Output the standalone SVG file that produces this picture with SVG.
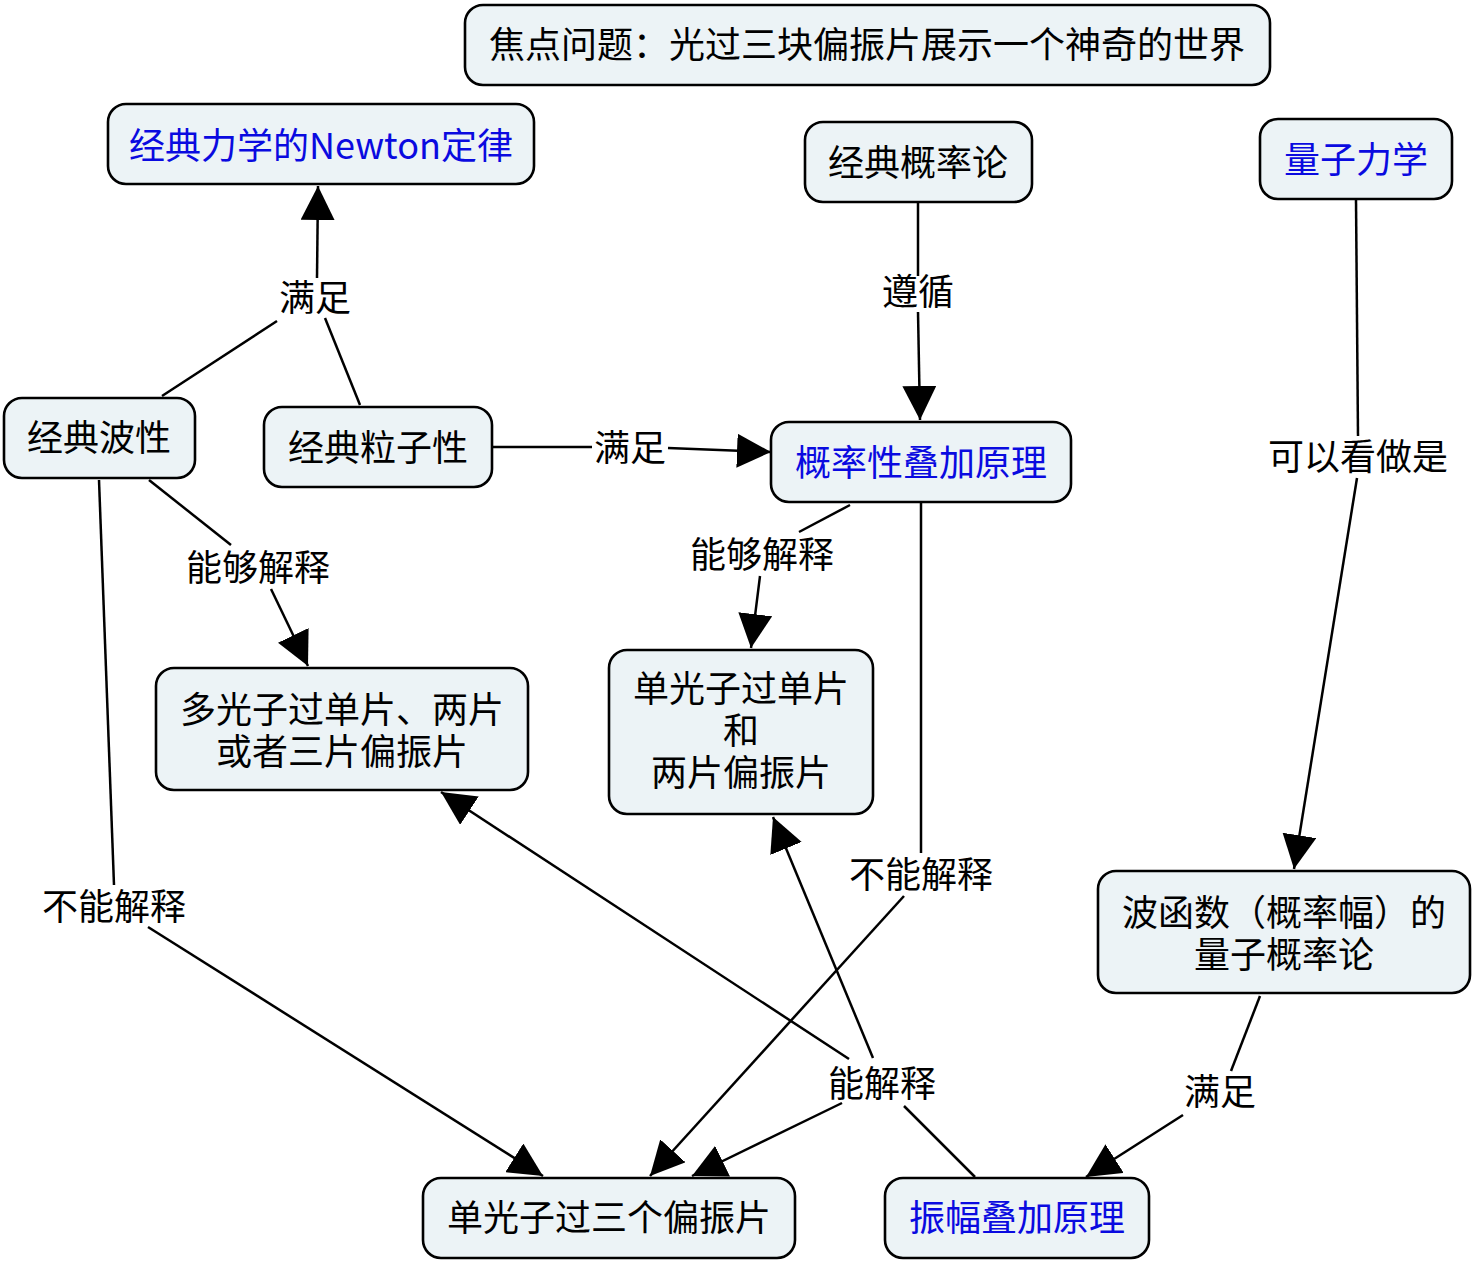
<svg xmlns="http://www.w3.org/2000/svg" width="1476" height="1263" viewBox="0 0 1476 1263">
<style>
.node rect{fill:#ecf3f6;stroke:#000;stroke-width:2.6}
text{font-family:"Noto Sans CJK SC","Noto Sans",sans-serif;font-size:36px;text-anchor:middle;fill:#000}
.blue{fill:#0a0ae0}
.conn line{stroke:#000;stroke-width:2.5;fill:none}
</style>
<defs>
<marker id="ah" markerUnits="userSpaceOnUse" markerWidth="34" markerHeight="34" viewBox="0 0 32 32" refX="32" refY="16" orient="auto">
<path d="M0,0 L32,16 L0,32 z" fill="#000"/>
</marker>
</defs>
<rect width="1476" height="1263" fill="#fff"/>
<g id="connectors" class="conn">
<line x1="162" y1="396" x2="277" y2="321"/>
<line x1="360" y1="405" x2="325" y2="318"/>
<line x1="317" y1="278" x2="318" y2="186" marker-end="url(#ah)"/>
<line x1="918" y1="203" x2="918" y2="276"/>
<line x1="918" y1="312" x2="920" y2="420" marker-end="url(#ah)"/>
<line x1="493" y1="447" x2="592" y2="447"/>
<line x1="668" y1="448" x2="771" y2="452" marker-end="url(#ah)"/>
<line x1="1356" y1="200" x2="1358" y2="436"/>
<line x1="1357" y1="478" x2="1294" y2="869" marker-end="url(#ah)"/>
<line x1="149" y1="480" x2="231" y2="545"/>
<line x1="271" y1="589" x2="308" y2="666" marker-end="url(#ah)"/>
<line x1="850" y1="505" x2="799" y2="532"/>
<line x1="760" y1="576" x2="751" y2="648" marker-end="url(#ah)"/>
<line x1="99" y1="480" x2="114" y2="885"/>
<line x1="148" y1="927" x2="543" y2="1176" marker-end="url(#ah)"/>
<line x1="921" y1="503" x2="921" y2="853"/>
<line x1="904" y1="896" x2="650" y2="1176" marker-end="url(#ah)"/>
<line x1="849" y1="1059" x2="441" y2="792" marker-end="url(#ah)"/>
<line x1="873" y1="1058" x2="773" y2="817" marker-end="url(#ah)"/>
<line x1="842" y1="1103" x2="692" y2="1176" marker-end="url(#ah)"/>
<line x1="904" y1="1106" x2="975" y2="1177"/>
<line x1="1260" y1="996" x2="1231" y2="1071"/>
<line x1="1183" y1="1115" x2="1086" y2="1177" marker-end="url(#ah)"/>
</g>
<g id="labels">
<text x="315" y="311">满足</text>
<text x="918" y="305">遵循</text>
<text x="630" y="461">满足</text>
<text x="1358" y="470">可以看做是</text>
<text x="258" y="581">能够解释</text>
<text x="762" y="568">能够解释</text>
<text x="114" y="920">不能解释</text>
<text x="921" y="888">不能解释</text>
<text x="882" y="1097">能解释</text>
<text x="1220" y="1105">满足</text>
</g>
<g id="n-title" class="node"><rect x="465" y="5" width="805" height="80" rx="18"/><text x="867" y="58">焦点问题：光过三块偏振片展示一个神奇的世界</text></g>
<g id="n-newton" class="node"><rect x="108" y="104" width="426" height="80" rx="18"/><text class="blue" x="321" y="159">经典力学的Newton定律</text></g>
<g id="n-gailvlun" class="node"><rect x="805" y="122" width="227" height="80" rx="18"/><text x="918" y="176">经典概率论</text></g>
<g id="n-liangzi" class="node"><rect x="1260" y="119" width="192" height="80" rx="18"/><text class="blue" x="1356" y="173">量子力学</text></g>
<g id="n-bo" class="node"><rect x="4" y="398" width="191" height="80" rx="18"/><text x="99" y="451">经典波性</text></g>
<g id="n-lizi" class="node"><rect x="264" y="407" width="228" height="80" rx="18"/><text x="378" y="461">经典粒子性</text></g>
<g id="n-diejia" class="node"><rect x="771" y="422" width="300" height="80" rx="18"/><text class="blue" x="921" y="476">概率性叠加原理</text></g>
<g id="n-duo" class="node"><rect x="156" y="668" width="372" height="122" rx="18"/><text x="342" y="723">多光子过单片、两片</text><text x="342" y="765">或者三片偏振片</text></g>
<g id="n-dan12" class="node"><rect x="609" y="650" width="264" height="164" rx="18"/><text x="741" y="702">单光子过单片</text><text x="741" y="744">和</text><text x="741" y="786">两片偏振片</text></g>
<g id="n-bohanshu" class="node"><rect x="1098" y="871" width="372" height="122" rx="18"/><text x="1284" y="926">波函数（概率幅）的</text><text x="1284" y="968">量子概率论</text></g>
<g id="n-dan3" class="node"><rect x="423" y="1178" width="372" height="80" rx="18"/><text x="609" y="1231">单光子过三个偏振片</text></g>
<g id="n-zhenfu" class="node"><rect x="885" y="1178" width="264" height="80" rx="18"/><text class="blue" x="1017" y="1231">振幅叠加原理</text></g>
</svg>
